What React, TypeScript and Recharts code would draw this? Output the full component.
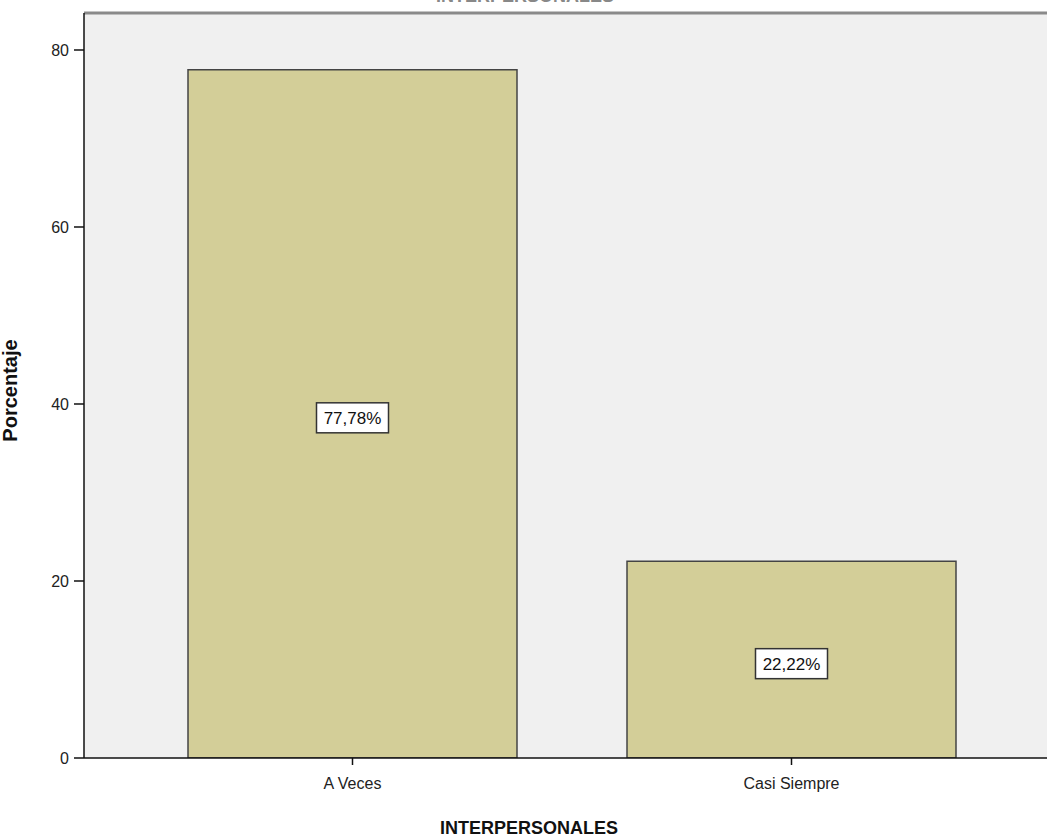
import { BarChart, Bar, XAxis, YAxis, CartesianGrid, ReferenceLine, LabelList, Label } from 'recharts'

const categories = ['A Veces', 'Casi Siempre']
const percentages = [77.78, 22.22]
const percentLabels = ['77,78%', '22,22%']
const yTicks = [0, 20, 40, 60, 80]
const yMax = 84.18

const data = categories.map((name, i) => ({
  name,
  value: percentages[i],
  label: percentLabels[i],
}))

const font = 'Arial, "Liberation Sans", sans-serif'

// white box with a black border, centred in the bar
function BoxLabel(props: any) {
  const { x, y, width, height, value } = props
  const cx = x + width / 2
  const cy = y + height / 2 + 4
  const w = 72
  const h = 30
  return (
    <g>
      <rect x={cx - w / 2} y={cy - h / 2} width={w} height={h} fill="#fff" stroke="#333" strokeWidth={1.5} />
      <text x={cx} y={cy + 6} textAnchor="middle" fontSize={17} fontFamily={font} fill="#111">
        {value}
      </text>
    </g>
  )
}

export default function App() {
  return (
    <div style={{ position: 'absolute', left: 0, top: 0, width: 1047, height: 837, overflow: 'hidden', background: '#fff' }}>
      <BarChart
        width={1060}
        height={837}
        data={data}
        margin={{ top: 13, right: 0, left: 0, bottom: 0 }}
      >
        <text x={525} y={2} textAnchor="middle" fontSize={18} fontWeight="bold" fontFamily={font} fill="#888">
          INTERPERSONALES
        </text>
        <CartesianGrid horizontal={false} vertical={false} fill="#f0f0f0" stroke="none" />
        <ReferenceLine y={yMax} stroke="#8a8a8a" strokeWidth={3} />
        <XAxis
          dataKey="name"
          height={79}
          padding={{ left: 49, right: 49 }}
          axisLine={{ stroke: '#111', strokeWidth: 1.5 }}
          tickLine={{ stroke: '#111', strokeWidth: 1.5 }}
          tickSize={7}
          tickMargin={13}
          tick={{ fontSize: 16, fontFamily: font, fill: '#222' }}
        >
          <Label
            value="INTERPERSONALES"
            position="insideBottom"
            offset={3}
            dx={-43}
            style={{ fontSize: 18, fontWeight: 'bold', fontFamily: font, fill: '#111' }}
          />
        </XAxis>
        <YAxis
          width={84}
          domain={[0, yMax]}
          ticks={yTicks}
          allowDataOverflow
          axisLine={{ stroke: '#111', strokeWidth: 1.5 }}
          tickLine={{ stroke: '#111', strokeWidth: 1.5 }}
          tickSize={10}
          tickMargin={5}
          tick={{ fontSize: 16, fontFamily: font, fill: '#222' }}
        >
          <Label
            value="Porcentaje"
            angle={-90}
            position="insideLeft"
            offset={10}
            dy={5}
            style={{ fontSize: 20, fontWeight: 'bold', fontFamily: font, fill: '#111', textAnchor: 'middle' }}
          />
        </YAxis>
        <Bar dataKey="value" barSize={329} fill="#d3ce98" stroke="#444" strokeWidth={1.5} isAnimationActive={false}>
          <LabelList dataKey="label" content={BoxLabel} />
        </Bar>
      </BarChart>
    </div>
  )
}
